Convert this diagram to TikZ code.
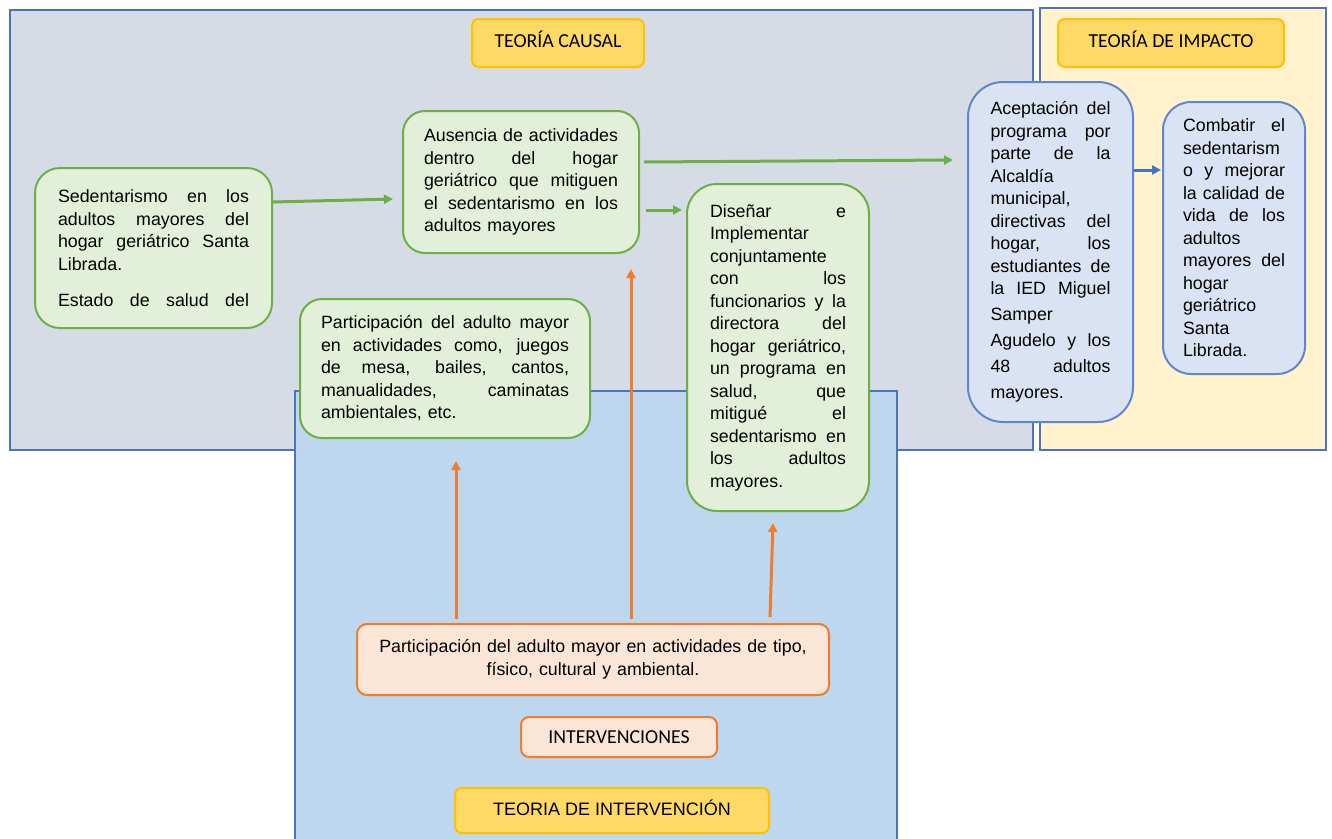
\documentclass[tikz,border=0pt]{standalone}
\usepackage{fontspec}
\setmainfont{Liberation Sans}
\newfontfamily\calfont{Carlito}
\usetikzlibrary{arrows.meta}
\definecolor{grayfill}{HTML}{D6DCE5}
\definecolor{regborder}{HTML}{4F72BE}
\definecolor{yelfill}{HTML}{FFF2CC}
\definecolor{bluefill}{HTML}{BDD7EE}
\definecolor{greenfill}{HTML}{E2F0D9}
\definecolor{greenline}{HTML}{70AD47}
\definecolor{bluebox}{HTML}{DAE3F3}
\definecolor{blueline}{HTML}{4472C4}
\definecolor{orfill}{HTML}{FBE5D6}
\definecolor{orline}{HTML}{ED7D31}
\definecolor{titfill}{HTML}{FFD966}
\definecolor{titline}{HTML}{FFC000}
\newcommand{\jl}[1]{\leavevmode\hbox to \hsize{\spaceskip=0.278em plus 1fill\relax #1}}
\begin{document}
\begin{tikzpicture}[x=1pt,y=-1pt,
  region/.style={draw=regborder, line width=1.5pt},
  body/.style={font=\fontsize{17.8}{22.5}\selectfont, align=left, inner sep=0pt, line width=2pt},
  gbox/.style={body, draw=greenline, fill=greenfill},
  bbox/.style={body, draw=blueline!85, fill=bluebox},
  obox/.style={draw=orline, fill=orfill, line width=2pt, inner sep=0pt},
  tbox/.style={draw=titline, fill=titfill, line width=2pt, rounded corners=7pt, inner sep=0pt},
  calt/.style={font=\calfont\fontsize{19.8}{24}\selectfont},
  tip/.style={-{Triangle[length=9pt,width=9pt]}},
  garrow/.style={draw=greenline, line width=3pt, tip},
  oarrow/.style={draw=orline, line width=3pt, tip},
  barrow/.style={draw=blueline, line width=3pt, tip}
]
\useasboundingbox (0,0) rectangle (1332,838);
% regions
\draw[region, fill=grayfill] (10,10) rectangle (1033,450);
\draw[region, fill=yelfill] (1040,8) rectangle (1326,450);
\draw[region, fill=bluefill] (295,391) rectangle (897,850);

% titles
\node[tbox, calt, minimum width=172pt, minimum height=48pt, text depth=7pt] (tc) at (558,43) {TEORÍA CAUSAL};
\node[tbox, calt, minimum width=226pt, minimum height=48pt, text depth=7pt] (ti) at (1171,43) {TEORÍA DE IMPACTO};
\node[tbox, font=\fontsize{18}{22}\selectfont, minimum width=314pt, minimum height=45pt, text depth=6pt] (tint) at (612,810.5) {TEORIA DE INTERVENCIÓN};
\node[obox, calt, rounded corners=8pt, minimum width=196pt, minimum height=40pt] (intv) at (619,737) {INTERVENCIONES};

% green boxes
\node[gbox, rounded corners=25pt, minimum width=237pt, minimum height=160pt, text width=191pt] (sed) at (153.5,248) {%
\jl{Sedentarismo en los}\\
\jl{adultos mayores del}\\
\jl{hogar geriátrico Santa}\\
Librada.\\[13.5pt]
\jl{Estado de salud del}};

\node[gbox, rounded corners=22pt, minimum width=236pt, minimum height=142pt, text width=194pt] (aus) at (521,182) {%
\jl{Ausencia de actividades}\\
\jl{dentro del hogar}\\
\jl{geriátrico que mitiguen}\\
\jl{el sedentarismo en los}\\
adultos mayores};

\node[gbox, rounded corners=22pt, minimum width=290pt, minimum height=139pt, text width=248pt] (part1) at (445,368.5) {%
\jl{Participación del adulto mayor}\\
\jl{en actividades como, juegos}\\
\jl{de mesa, bailes, cantos,}\\
\jl{manualidades, caminatas}\\
ambientales, etc.};

\node[gbox, rounded corners=30pt, minimum width=182pt, minimum height=327pt, text width=136pt] (dis) at (778,347.5) {%
\jl{Diseñar e}\\
Implementar\\
conjuntamente\\
\jl{con los}\\
\jl{funcionarios y la}\\
\jl{directora del}\\
\jl{hogar geriátrico,}\\
\jl{un programa en}\\
\jl{salud, que}\\
\jl{mitigué el}\\
\jl{sedentarismo en}\\
\jl{los adultos}\\
mayores.};

% blue boxes
\node[bbox, rounded corners=35pt, minimum width=165pt, minimum height=340pt, text width=120pt] (acep) at (1050.5,252) {%
\jl{Aceptación del}\\
\jl{programa por}\\
\jl{parte de la}\\
Alcaldía\\
municipal,\\
\jl{directivas del}\\
\jl{hogar, los}\\
\jl{estudiantes de}\\
\jl{la IED Miguel}\\[3.5pt]
Samper\\[3pt]
\jl{Agudelo y los}\\[4pt]
\jl{48 adultos}\\[3.5pt]
mayores.};

\node[bbox, rounded corners=28pt, minimum width=142pt, minimum height=272pt, text width=102pt] (comb) at (1234,238) {%
\jl{Combatir el}\\
sedentarism\\
\jl{o y mejorar}\\
\jl{la calidad de}\\
\jl{vida de los}\\
adultos\\
\jl{mayores del}\\
hogar\\
geriátrico\\
Santa\\
Librada.};

% orange intervention box
\node[obox, rounded corners=10pt, minimum width=472pt, minimum height=71pt, text width=460pt, align=center, font=\fontsize{17.8}{22.5}\selectfont] (int) at (593,659.5) {%
Participación del adulto mayor en actividades de tipo,\\
físico, cultural y ambiental.};

% connectors
\draw[garrow] ([yshift=46pt]sed.east) -- ([xshift=-9pt,yshift=-17pt]aus.west);
\draw[garrow] ([xshift=4pt,yshift=20pt]aus.east) -- ([xshift=-14pt,yshift=92pt]acep.west);
\draw[garrow] ([xshift=6pt,yshift=-28pt]aus.east) -- ([xshift=-4pt,yshift=137.5pt]dis.west);
\draw[barrow] ([yshift=82pt]acep.east) -- ([xshift=-1pt,yshift=68pt]comb.west);
\draw[oarrow] ([xshift=-137pt,yshift=4pt]int.north) -- ([xshift=11pt,yshift=-22pt]part1.south);
\draw[oarrow] ([xshift=38pt,yshift=4pt]int.north) -- ([xshift=110pt,yshift=-15pt]aus.south);
\draw[oarrow] ([xshift=177pt,yshift=6pt]int.north) -- ([xshift=-5pt,yshift=-11pt]dis.south);
\end{tikzpicture}
\end{document}
